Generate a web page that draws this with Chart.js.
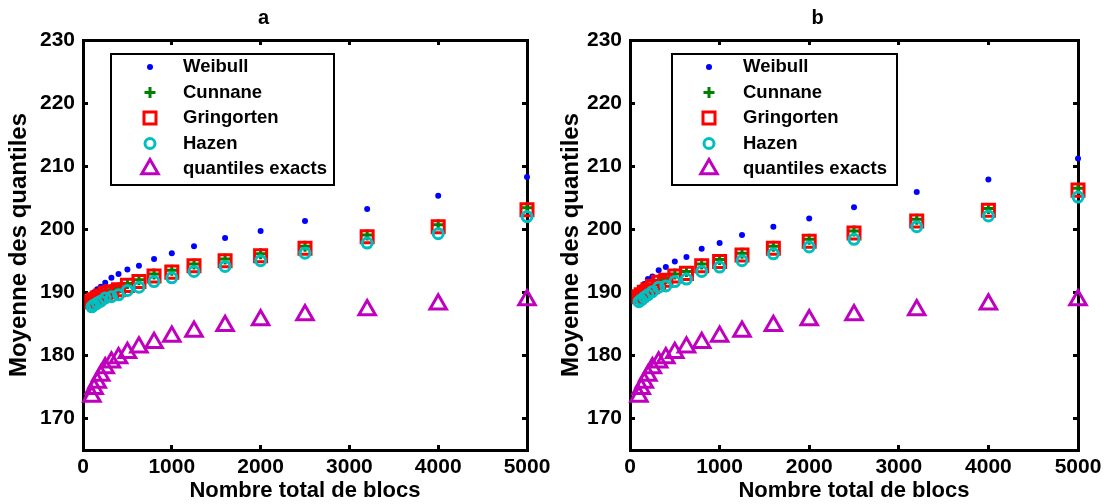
<!DOCTYPE html>
<html lang="fr">
<head>
    <meta charset="UTF-8">
    <title>Moyenne des quantiles</title>
    <script src="https://cdn.jsdelivr.net/npm/chart.js"></script>
    <style>
        body {
            margin: 0;
            background: #fff;
        }
        #wrap {
            position: relative;
            width: 1115px;
            height: 504px;
        }
        canvas {
            position: absolute;
            top: 0;
        }
        #chartA { left: 0; }
        #chartB { left: 557px; }
    </style>
</head>
<body>
<div id="wrap">
    <canvas id="chartA" width="557" height="504"></canvas>
    <canvas id="chartB" width="558" height="504"></canvas>
</div>

<script>
    const blocs = [100, 125, 160, 200, 250, 320, 400, 500, 630, 800, 1000, 1250, 1600, 2000, 2500, 3200, 4000, 5000];

    const weibullA    = [189.6, 190.0, 190.5, 190.9, 191.5, 192.3, 192.9, 193.6, 194.2, 195.3, 196.2, 197.3, 198.6, 199.7, 201.3, 203.2, 205.3, 208.3];
    const cunnaneA    = [188.8, 189.1, 189.4, 189.7, 190.2, 190.4, 190.7, 191.4, 192.0, 192.9, 193.5, 194.5, 195.3, 196.1, 197.3, 199.1, 200.7, 203.4];
    const gringortenA = [188.5, 188.8, 189.1, 189.4, 189.9, 190.1, 190.4, 191.1, 191.7, 192.6, 193.2, 194.2, 195.0, 195.8, 197.0, 198.8, 200.4, 203.1];
    const hazenA      = [187.7, 188.0, 188.3, 188.6, 189.1, 189.3, 189.6, 190.3, 190.8, 191.7, 192.3, 193.3, 194.1, 195.0, 196.2, 197.8, 199.3, 202.0];

    const weibullB    = [190.2, 190.8, 191.3, 192.1, 192.5, 193.5, 194.0, 194.9, 195.6, 196.9, 197.8, 199.1, 200.4, 201.7, 203.5, 205.9, 207.9, 211.2];
    const cunnaneB    = [189.6, 189.9, 190.3, 190.7, 191.2, 191.9, 192.2, 192.9, 193.3, 194.5, 195.2, 196.2, 197.3, 198.4, 199.7, 201.6, 203.3, 206.5];
    const gringortenB = [189.3, 189.6, 190.0, 190.4, 190.9, 191.6, 191.9, 192.6, 193.0, 194.2, 194.9, 195.9, 197.0, 198.1, 199.4, 201.3, 203.0, 206.2];
    const hazenB      = [188.5, 188.8, 189.2, 189.6, 190.1, 190.8, 191.0, 191.7, 192.1, 193.3, 194.0, 195.0, 196.1, 197.2, 198.4, 200.4, 202.1, 205.1];

    const exacts      = [173.5, 174.7, 175.7, 176.8, 178.0, 178.9, 179.6, 180.4, 181.3, 182.0, 183.0, 183.8, 184.7, 185.6, 186.4, 187.2, 188.1, 188.8];

    const xTicks = [0, 1000, 2000, 3000, 4000, 5000];
    const yTicks = [170, 180, 190, 200, 210, 220, 230];

    const FONT = '"Liberation Sans", Arial, Helvetica, sans-serif';

    function pts(ys) {
        return blocs.map((x, i) => ({ x: x, y: ys[i] }));
    }

    function fixTicks(list) {
        return scale => { scale.ticks = list.map(v => ({ value: v })); };
    }

    // legend drawn inside the plot with a frame, like the original figure
    const boxLegend = {
        id: 'boxLegend',
        afterDraw(chart, args, opts) {
            let ctx = chart.ctx;
            ctx.save();
            ctx.lineWidth = 2;
            ctx.strokeStyle = '#000';
            ctx.fillStyle = '#fff';
            ctx.fillRect(opts.x, opts.y, opts.w, opts.h);
            ctx.strokeRect(opts.x, opts.y, opts.w, opts.h);
            chart.data.datasets.forEach((ds, i) => {
                let y = opts.y + opts.first + i * opts.step;
                ctx.save();
                ctx.fillStyle = ds.backgroundColor;
                ctx.strokeStyle = ds.borderColor;
                ctx.lineWidth = ds.borderWidth;
                Chart.helpers.drawPoint(ctx, {
                    pointStyle: ds.pointStyle,
                    radius: ds.pointRadius,
                    borderWidth: ds.borderWidth,
                    rotation: 0
                }, opts.markX, y);
                ctx.restore();
                ctx.fillStyle = '#000';
                ctx.font = 'bold 18.5px ' + FONT;
                ctx.textAlign = 'left';
                ctx.textBaseline = 'middle';
                ctx.fillText(ds.label, opts.textX, y);
            });
            ctx.restore();
        }
    };

    function axisCommon() {
        return {
            grid: { display: true, drawOnChartArea: false, drawTicks: true, tickLength: -5, tickWidth: 3, tickColor: '#000' },
            border: { display: true, color: '#000', width: 3 }
        };
    }

    function makeChart(id, title, w, g, c, h, lay) {
        let ctx = document.getElementById(id).getContext('2d');
        let tickFont = { family: FONT, size: 21, weight: 'bold' };
        return new Chart(ctx, {
            type: 'scatter',
            data: {
                datasets: [
                    { label: 'Weibull', data: pts(w), pointStyle: 'circle', pointRadius: 3, backgroundColor: '#0000ff', borderColor: '#0000ff', borderWidth: 0, order: 3, clip: false },
                    { label: 'Cunnane', data: pts(c), pointStyle: 'cross', pointRadius: 5.5, backgroundColor: 'rgba(0,0,0,0)', borderColor: '#008000', borderWidth: 3, order: 2, clip: false },
                    { label: 'Gringorten', data: pts(g), pointStyle: 'rect', pointRadius: 8.5, backgroundColor: 'rgba(0,0,0,0)', borderColor: '#ff0000', borderWidth: 3, order: 1, clip: false },
                    { label: 'Hazen', data: pts(h), pointStyle: 'circle', pointRadius: 5, backgroundColor: 'rgba(0,0,0,0)', borderColor: '#00bfbf', borderWidth: 3, order: 0, clip: false },
                    { label: 'quantiles exacts', data: pts(exacts), pointStyle: 'triangle', pointRadius: 9.5, backgroundColor: 'rgba(0,0,0,0)', borderColor: '#bf00bf', borderWidth: 3, order: 4, clip: false }
                ]
            },
            options: {
                responsive: false,
                animation: false,
                events: [],
                devicePixelRatio: 1,
                layout: { padding: { left: 0, right: lay.right, top: 0, bottom: 0 } },
                plugins: {
                    legend: { display: false },
                    tooltip: { enabled: false },
                    title: {
                        display: true,
                        text: title,
                        color: '#000',
                        font: { family: FONT, size: 20, weight: 'bold', lineHeight: 1.2 },
                        padding: { top: 6, bottom: 10 }
                    },
                    boxLegend: lay.legend
                },
                scales: {
                    x: Object.assign(axisCommon(), {
                        type: 'linear',
                        position: 'bottom',
                        min: 0,
                        max: 5000,
                        afterBuildTicks: fixTicks(xTicks),
                        afterFit: s => { s.height = 54; s.paddingLeft = 0; s.paddingRight = 0; },
                        ticks: { color: '#000', font: tickFont, padding: 10, maxRotation: 0, autoSkip: false, callback: v => String(v) },
                        title: { display: true, text: 'Nombre total de blocs', color: '#000', font: { family: FONT, size: 22, weight: 'bold' }, padding: 0 }
                    }),
                    y: Object.assign(axisCommon(), {
                        type: 'linear',
                        position: 'left',
                        min: 165,
                        max: 230,
                        afterBuildTicks: fixTicks(yTicks),
                        afterFit: s => { s.width = lay.axisW; },
                        ticks: { color: '#000', font: tickFont, padding: 13, autoSkip: false, callback: v => String(v) },
                        title: { display: true, text: 'Moyenne des quantiles', color: '#000', font: { family: FONT, size: 24, weight: 'bold' }, padding: { top: lay.titlePad, bottom: 0 } }
                    }),
                    x2: Object.assign(axisCommon(), {
                        type: 'linear',
                        position: 'top',
                        min: 0,
                        max: 5000,
                        afterBuildTicks: fixTicks(xTicks),
                        afterFit: s => { s.height = 0; s.paddingLeft = 0; s.paddingRight = 0; },
                        ticks: { display: false }
                    }),
                    y2: Object.assign(axisCommon(), {
                        type: 'linear',
                        position: 'right',
                        min: 165,
                        max: 230,
                        afterBuildTicks: fixTicks(yTicks),
                        afterFit: s => { s.width = 0; },
                        ticks: { display: false }
                    })
                }
            },
            plugins: [boxLegend]
        });
    }

    makeChart('chartA', 'a', weibullA, gringortenA, cunnaneA, hazenA, {
        right: 30,
        axisW: 83,
        titlePad: 5,
        legend: { x: 111, y: 54, w: 223, h: 131, first: 13, step: 25.5, markX: 150, textX: 183 }
    });

    makeChart('chartB', 'b', weibullB, gringortenB, cunnaneB, hazenB, {
        right: 37,
        axisW: 73,
        titlePad: 0,
        legend: { x: 115, y: 54, w: 225, h: 131, first: 13, step: 25.5, markX: 152, textX: 186 }
    });
</script>

</body>
</html>
